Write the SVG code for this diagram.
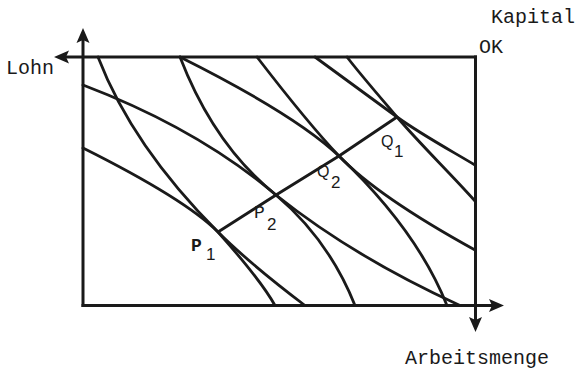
<svg xmlns="http://www.w3.org/2000/svg" width="580" height="370" viewBox="0 0 580 370">
<style>
.ax{fill:none;stroke:#1a1a1a;stroke-width:3;stroke-linecap:square}
.cv{fill:none;stroke:#1a1a1a;stroke-width:2.8;stroke-linecap:round}
.cc{fill:none;stroke:#1a1a1a;stroke-width:2.9;stroke-linejoin:round}
.mono{font-family:"Liberation Mono","Courier New",monospace;font-size:20px;fill:#1a1a1a}
.pl{font-family:"Liberation Mono","Courier New",monospace;font-size:18px;fill:#1a1a1a}
.sub{font-family:"Liberation Sans",Arial,sans-serif;font-size:17px;fill:#1a1a1a}
.ql{font-family:"Liberation Sans",Arial,sans-serif;font-size:16px;fill:#1a1a1a}
</style>
<defs>
<marker id="ah" markerUnits="userSpaceOnUse" markerWidth="16" markerHeight="14" viewBox="0 0 16 14" refX="8" refY="7" orient="auto">
<path d="M0,0.5 L15,7 L0,13.5 L3,7 Z" fill="#1a1a1a"/>
</marker>
</defs>
<g id="axes">
<path class="ax" d="M83,305.5 L83,35" marker-end="url(#ah)"/>
<path class="ax" d="M475.5,57 L61,57" marker-end="url(#ah)"/>
<path class="ax" d="M83,305.5 L497,305.5" marker-end="url(#ah)"/>
<path class="ax" d="M475.5,57 L475.5,325" marker-end="url(#ah)"/>
</g>
<g id="curves">
<path class="cv" d="M98,57 Q132.4,146.4 218,232 Q249,263 305,305.5"/>
<path class="cv" d="M83,148 Q185,199 218,232 C226,241 262,282 275,305.5"/>
<path class="cv" d="M180,57 Q214,145.4 276,195 Q353.7,257 460,305.5"/>
<path class="cv" d="M83,85 Q198,128.7 276,195 Q329,240 355,305.5"/>
<path class="cv" d="M257,57 Q308.6,124 339,156 Q377.4,196.3 475,250"/>
<path class="cv" d="M180,57 Q295.6,114.8 339,156 Q417,230 447,305.5"/>
<path class="cv" d="M315,57 C345,79 372,99 397,117 C422,135 450,150 475,165"/>
<path class="cv" d="M347,57 C360,74 380,97 397,117 C420,144 450,173 475,201"/>
</g>
<g id="connectors">
<path class="cc" d="M218,232 L276,195 L339,156 L397,117"/>
</g>
<g id="labels">
<text class="mono" x="6" y="74">Lohn</text>
<text class="mono" x="491" y="23">Kapital</text>
<text class="mono" x="479" y="53">OK</text>
<text class="mono" x="405" y="364">Arbeitsmenge</text>
<text class="pl" x="191" y="251" font-weight="bold">P</text>
<text class="sub" x="206" y="260">1</text>
<text class="pl" x="254" y="218">P</text>
<text class="sub" x="267" y="230">2</text>
<text class="ql" x="317" y="177">Q</text>
<text class="sub" x="331" y="188">2</text>
<text class="ql" x="381" y="147">Q</text>
<text class="sub" x="394" y="157">1</text>
</g>
</svg>
